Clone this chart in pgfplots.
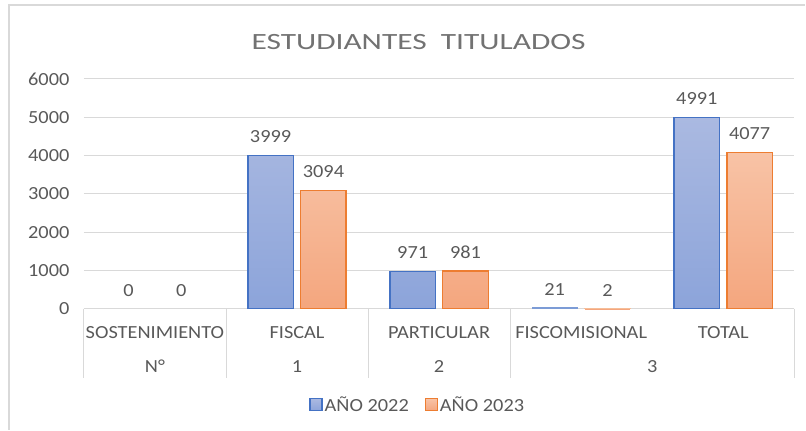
\documentclass[border=0pt]{standalone}
\usepackage{fontspec}
\setmainfont{Carlito}[FakeStretch=1.1]
\newfontfamily\titlefont{Carlito}[FakeStretch=1.35]
\usepackage{pgfplots}
\pgfplotsset{compat=1.18}
\definecolor{txt}{HTML}{595959}
\definecolor{gridc}{HTML}{D9D9D9}
\definecolor{bline}{HTML}{4472C4}
\definecolor{btop}{HTML}{AAB9E1}
\definecolor{bbot}{HTML}{8CA4DA}
\definecolor{oline}{HTML}{ED7D31}
\definecolor{otop}{HTML}{F8C3A6}
\definecolor{obot}{HTML}{F4A67E}
\pgfplotsset{/pgf/number format/.cd, 1000 sep={}, assume math mode=true}
\newcommand{\lbl}{\fontsize{18.5}{21}\selectfont}
\begin{document}
\begin{tikzpicture}[x=1pt,y=1pt]
\path (0,0) rectangle (806,430);
\draw[gridc, line width=1.5pt] (9,0) -- (9,425) -- (806,425);
\node[font=\titlefont\fontsize{23.3}{26}\selectfont, text=txt!85, anchor=base] at (419,380) {ESTUDIANTES\ \ TITULADOS};
\begin{axis}[
  at={(84pt,121pt)}, anchor=south west,
  scale only axis, width=711pt, height=230pt,
  xmin=-0.5, xmax=4.5, ymin=0, ymax=6000,
  ytick={0,1000,...,6000},
  xtick={0,1,2,3,4},
  xticklabels={SOSTENIMIENTO,FISCAL,PARTICULAR,FISCOMISIONAL,TOTAL},
  axis x line=bottom, axis y line=left,
  axis line style={draw=none},
  major tick length=0pt,
  ymajorgrids, grid style={gridc, line width=0.9pt},
  ticklabel style={font=\lbl, text=txt},
  yticklabel style={anchor=east, xshift=-11pt},
  xticklabel style={anchor=base, yshift=-30pt},
  clip=false,
  legend style={at={(axis description cs:0.47,0)}, anchor=center, yshift=-96pt,
    draw=none, fill=none, font=\lbl, text=txt, legend columns=2,
    /tikz/every even column/.append style={column sep=14pt}},
  legend cell align=left,
]
\addplot[ybar, bar width=45.5pt, bar shift=-26.45pt, draw=bline, line width=1.4pt,
  top color=btop, bottom color=bbot,
  legend image code/.code={\draw[draw=bline, line width=1.2pt, top color=btop, bottom color=bbot] (-0.5pt,-6pt) rectangle (11.5pt,6pt);},
  nodes near coords, every node near coord/.append style={font=\lbl, text=txt, anchor=base, yshift=13pt, xshift=-26.45pt}]
  coordinates {(1,3999) (2,971) (4,4991)};
\addlegendentry{AÑO 2022}
\addplot[ybar, bar width=45.5pt, bar shift=26.45pt, draw=oline, line width=1.4pt,
  top color=otop, bottom color=obot,
  legend image code/.code={\draw[draw=oline, line width=1.2pt, top color=otop, bottom color=obot] (-0.5pt,-6pt) rectangle (11.5pt,6pt);},
  nodes near coords, every node near coord/.append style={font=\lbl, text=txt, anchor=base, yshift=13pt, xshift=26.45pt}]
  coordinates {(1,3094) (2,981) (4,4077)};
\addlegendentry{AÑO 2023}
% small values
\addplot[ybar, forget plot, bar width=45.5pt, bar shift=-26.45pt, draw=bline!70, line width=1pt, fill=bbot,
  nodes near coords, every node near coord/.append style={font=\lbl, text=txt, anchor=base, yshift=12pt, xshift=-26.45pt}]
  coordinates {(3,21)};
\addplot[ybar, forget plot, bar width=45.5pt, bar shift=26.45pt, draw=oline!50, line width=1pt, fill=obot,
  nodes near coords, every node near coord/.append style={font=\lbl, text=txt, anchor=base, yshift=12pt, xshift=26.45pt}]
  coordinates {(3,2)};
\addplot[ybar, forget plot, bar width=45.5pt, bar shift=-26.45pt, draw=none, fill=none,
  nodes near coords, every node near coord/.append style={font=\lbl, text=txt, anchor=base, yshift=12pt, xshift=-26.45pt}]
  coordinates {(0,0)};
\addplot[ybar, forget plot, bar width=45.5pt, bar shift=26.45pt, draw=none, fill=none,
  nodes near coords, every node near coord/.append style={font=\lbl, text=txt, anchor=base, yshift=12pt, xshift=26.45pt}]
  coordinates {(0,0)};
% category separators and second level
\foreach \xx in {-0.5,0.5,1.5,2.5,4.5}{
  \edef\tmp{\noexpand\draw[gridc, line width=0.9pt] (axis cs:\xx,0) -- ([yshift=-69pt]axis cs:\xx,0);}\tmp
}
\node[anchor=base, font=\lbl, text=txt] at ([yshift=-64pt]axis cs:0,0) {N°};
\node[anchor=base, font=\lbl, text=txt] at ([yshift=-64pt]axis cs:1,0) {1};
\node[anchor=base, font=\lbl, text=txt] at ([yshift=-64pt]axis cs:2,0) {2};
\node[anchor=base, font=\lbl, text=txt] at ([yshift=-64pt]axis cs:3.5,0) {3};
\end{axis}
\end{tikzpicture}
\end{document}
